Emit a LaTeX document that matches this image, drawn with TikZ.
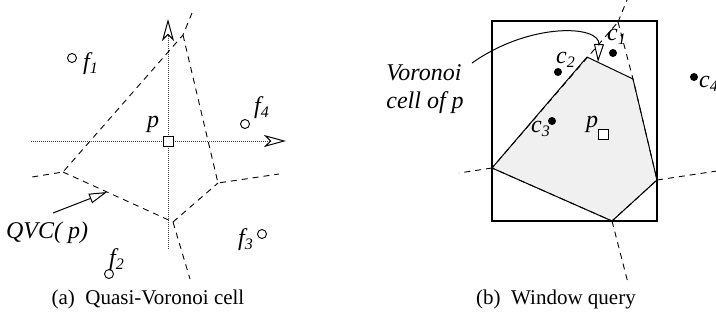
\documentclass[tikz,border=0pt]{standalone}
\usepackage{fontspec}
\setmainfont{Liberation Serif}
\usetikzlibrary{
	arrows.meta
}

\begin{document}
\begin{tikzpicture}[
	x=0.5pt, y=-0.5pt,
	font=\fontsize{10.5}{14}\selectfont,
	axis/.style={dash pattern=on 0.5pt off 0.5pt, line width=0.5pt, draw=black!75,
		-{Stealth[open, black, length=11pt, width=6pt, inset=3pt]}},
	vedge/.style={dash pattern=on 3pt off 2.5pt, line width=0.45pt},
	site/.style={circle, draw, line width=0.45pt, fill=white, inner sep=0pt, minimum size=4.5pt},
	query/.style={rectangle, draw, line width=0.45pt, fill=white, inner sep=0pt, minimum size=5pt},
	obj/.style={circle, fill=black, inner sep=0pt, minimum size=4pt},
	lab/.style={font=\fontsize{12}{14}\selectfont\itshape, inner sep=1pt},
	pointer/.style={line width=0.5pt, -{Triangle[open, length=9pt, width=5pt]}},
	window/.style={line width=0.6pt},
	cell/.style={fill=black!6, draw, line width=0.5pt, line join=round},
	caption/.style={font=\fontsize{10.5}{14}\selectfont}
]
\useasboundingbox (0,0) rectangle (716,322);

% (a) Quasi-Voronoi cell
\coordinate (xl) at (31,141);
\coordinate (xr) at (286,141);
\coordinate (yb) at (168,249);
\coordinate (yt) at (168,19);
\draw[axis] (xl) -- (xr);
\draw[axis] (yb) -- (yt);

\coordinate (va) at (183,35);
\coordinate (vb) at (63,172);
\coordinate (vc) at (218,183);
\coordinate (vd) at (173,222);
\coordinate (ra) at (192,13);
\coordinate (rb) at (32,177);
\coordinate (rc) at (279,174);
\coordinate (rd) at (190,279);
\draw[vedge] (ra) -- (va) -- (vb) -- (rb);
\draw[vedge] (va) -- (vc) -- (rc);
\draw[vedge] (vb) -- (vd) -- (rd);
\draw[vedge] (vd) -- (vc);

\node[query] (pa) at (168,141) {};
\node[lab] (pal) at (153,124) {p};

\node[site] (f1) at (72,58) {};
\node[lab] (f1l) at (91,64) {f\textsubscript{1}};
\node[site] (f2) at (109,274) {};
\node[lab] (f2l) at (117,260) {f\textsubscript{2}};
\node[site] (f3) at (262,234) {};
\node[lab] (f3l) at (246,240) {f\textsubscript{3}};
\node[site] (f4) at (245,124) {};
\node[lab] (f4l) at (262,108) {f\textsubscript{4}};

\node[lab] (qvc) at (47,233) {QVC( p)};
\coordinate (qvcfrom) at (53,213);
\coordinate (qvcto) at (107,192);
\draw[pointer] (qvcfrom) -- (qvcto);

\node[caption] (capa) at (148,299) {(a)~~Quasi-Voronoi cell};

% (b) Window query
\coordinate (ut) at (618,22);
\coordinate (uc) at (587,57);
\coordinate (ur) at (633,79);
\coordinate (ir) at (657,180);
\coordinate (ib) at (612,221);
\coordinate (il) at (492,168);
\coordinate (ot) at (627,0);
\coordinate (or) at (717,171);
\coordinate (ob) at (628,283);
\coordinate (ol) at (459,173);

\draw[cell] (uc) -- (ur) -- (ir) -- (ib) -- (il) -- cycle;
\draw[vedge] (ut) -- (ur) -- (ir) -- (ib) -- (il) -- cycle;
\draw[vedge] (ut) -- (ot);
\draw[vedge] (ir) -- (or);
\draw[vedge] (ib) -- (ob);
\draw[vedge] (il) -- (ol);

\coordinate (wa) at (492,21);
\coordinate (wb) at (657,221);
\draw[window] (wa) rectangle (wb);

\node[obj] (c1) at (613,53) {};
\node[lab] (c1l) at (617,37) {c\textsubscript{1}};
\node[obj] (c2) at (558,72) {};
\node[lab] (c2l) at (566,60) {c\textsubscript{2}};
\node[obj] (c3) at (552,121) {};
\node[lab] (c3l) at (541,129) {c\textsubscript{3}};
\node[obj] (c4) at (694,77) {};
\node[lab] (c4l) at (709,84) {c\textsubscript{4}};

\node[query] (pb) at (603,134) {};
\node[lab] (pbl) at (592,124) {p};

\node[lab, align=left, anchor=west] (vlab) at (384,89) {Voronoi\\cell of p};
\coordinate (vfrom) at (472,63);
\coordinate (vto) at (598,62);
\draw[pointer] (vfrom) .. controls (530,22) and (600,25) .. (vto);

\node[caption] (capb) at (556,299) {(b)~~Window query};
\end{tikzpicture}
\end{document}
